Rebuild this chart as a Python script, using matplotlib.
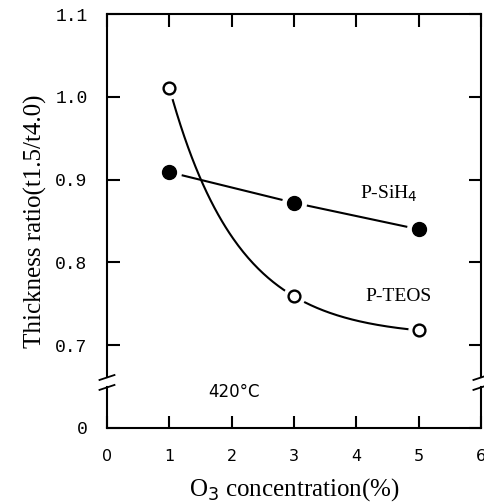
import numpy as np
import matplotlib
matplotlib.use('Agg')
import matplotlib.pyplot as plt

# data
o3 = [1, 3, 5]
sih4 = [0.909, 0.872, 0.840]
teos = [1.011, 0.759, 0.718]

y_ticks = [0.6, 0.7, 0.8, 0.9, 1.0, 1.1]   # 0.6 stands in for 0 (broken axis)
y_labels = ['0', '0.7', '0.8', '0.9', '1.0', '1.1']
x_ticks = [0, 1, 2, 3, 4, 5, 6]
brk = 0.655

fig = plt.figure(figsize=(4.85, 5.04), dpi=100)
ax = fig.add_axes([0.2206, 0.1508, 0.771, 0.8214])
ax.set_xlim(0, 6)
ax.set_ylim(0.6, 1.1)

# smooth curve for P-TEOS: a + b*exp(-k x) through the three points
r = (teos[1] - teos[2]) / (teos[0] - teos[1])
k = -np.log(r) / (o3[1] - o3[0])
b = (teos[0] - teos[1]) / (np.exp(-k * o3[0]) - np.exp(-k * o3[1]))
a = teos[0] - b * np.exp(-k * o3[0])
xs = np.linspace(o3[0], o3[2], 200)
ax.plot(xs, a + b * np.exp(-k * xs), color='black', lw=1.5, zorder=2)
ax.plot(o3, sih4, color='black', lw=1.5, zorder=2)

# white halo so lines stop short of the markers
ax.plot(o3, sih4, 'o', ms=17, color='white', mec='white', zorder=3)
ax.plot(o3, teos, 'o', ms=15, color='white', mec='white', zorder=3)
ax.plot(o3, sih4, 'o', ms=10, color='black', zorder=4)
ax.plot(o3, teos, 'o', ms=8.5, mfc='white', mec='black', mew=1.7, zorder=4)

ax.text(4.06, 0.883, 'P-SiH$_4$', fontsize=14, family='Liberation Serif', va='center')
ax.text(4.14, 0.7585, 'P-TEOS', fontsize=14, family='Liberation Serif', va='center')
ax.text(1.62, 0.644, '420°C', fontsize=12, family='DejaVu Sans', va='center')

ax.set_yticks(y_ticks)
ax.set_yticklabels(y_labels, family='Liberation Mono', fontsize=13)
ax.set_xticks(x_ticks)
ax.set_xticklabels([str(t) for t in x_ticks], family='DejaVu Sans', fontsize=11.5)
ax.tick_params(axis='y', direction='in', length=9, width=1.5, pad=14, right=True)
ax.tick_params(axis='x', direction='in', length=9, width=1.5, pad=15, top=True)

# broken left/right spines drawn by hand
ax.spines['left'].set_visible(False)
ax.spines['right'].set_visible(False)
for s in ['top', 'bottom']:
    ax.spines[s].set_linewidth(1.5)
g = 0.006
for xx in [0, 6]:
    ax.plot([xx, xx], [0.6, brk - g], color='black', lw=1.5, clip_on=False, zorder=5)
    ax.plot([xx, xx], [brk + g, 1.1], color='black', lw=1.5, clip_on=False, zorder=5)
    for dy in [-g, g]:
        ax.plot([xx - 0.12, xx + 0.12], [brk + dy - 0.003, brk + dy + 0.003],
                color='black', lw=1.3, clip_on=False, zorder=5)

ax.set_ylabel('Thickness ratio(t1.5/t4.0)', family='Liberation Serif', fontsize=18, labelpad=6)
ax.set_xlabel('O$_3$ concentration(%)', family='Liberation Serif', fontsize=18, labelpad=9)

fig.savefig('out.png', dpi=100)
